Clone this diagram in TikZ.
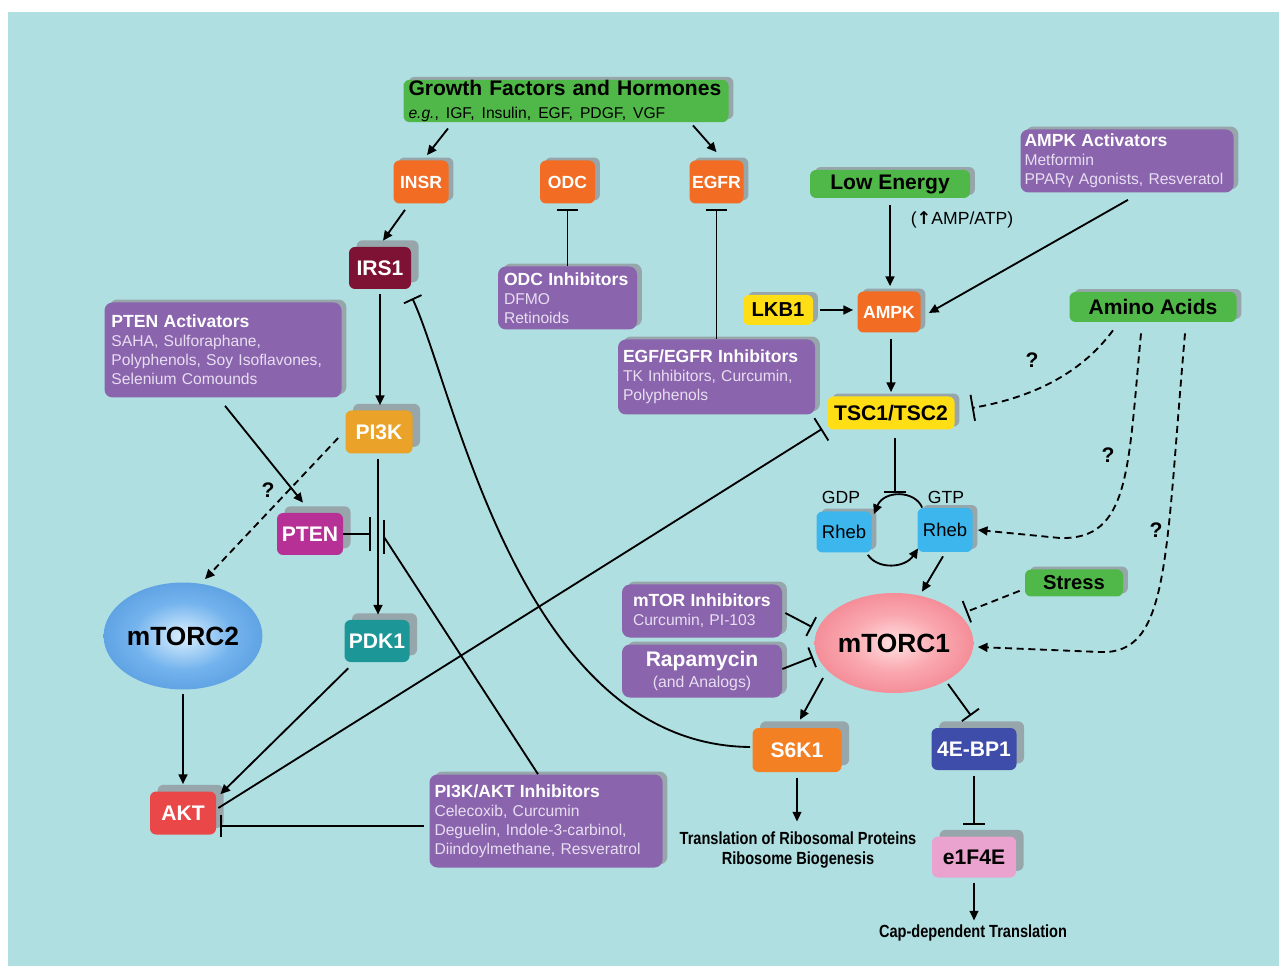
\documentclass[tikz,border=0pt]{standalone}
\usepackage{fontspec}
\setmainfont{Liberation Sans}
\newfontfamily\narrowfont{Liberation Sans}[FakeStretch=0.83]
\newfontfamily\dejavu{DejaVu Sans}
\usetikzlibrary{arrows.meta,shadows,shapes.geometric,calc}
\definecolor{bgcyan}{RGB}{176,223,226}
\definecolor{gfgreen}{RGB}{80,184,72}
\definecolor{inhpurple}{RGB}{138,100,172}
\definecolor{ptxt}{RGB}{232,222,242}
\definecolor{korange}{RGB}{242,108,36}
\definecolor{s6orange}{RGB}{244,128,36}
\definecolor{irsred}{RGB}{125,18,52}
\definecolor{pikamber}{RGB}{234,162,40}
\definecolor{ptenmag}{RGB}{182,48,150}
\definecolor{pdkteal}{RGB}{28,150,150}
\definecolor{aktred}{RGB}{234,72,72}
\definecolor{bpindigo}{RGB}{62,76,170}
\definecolor{eifpink}{RGB}{234,162,206}
\definecolor{rhebblue}{RGB}{60,182,236}
\definecolor{tscyellow}{RGB}{255,222,22}
\definecolor{shgray}{RGB}{150,166,170}
\newcommand\fs[2]{\fontsize{#1}{#2}\selectfont}
\newcommand\nohyph{\hyphenpenalty=10000\relax\exhyphenpenalty=10000\relax}
\newcommand\ptitle[1]{{\color{white}\fs{10}{10.8}\bfseries #1}}
\pgfdeclareradialshading{torcone}{\pgfpoint{0bp}{0bp}}{rgb(0bp)=(1,0.88,0.88); rgb(14bp)=(0.98,0.66,0.69); rgb(50bp)=(0.91,0.32,0.39)}
\pgfdeclareradialshading{torctwo}{\pgfpoint{0bp}{0bp}}{rgb(0bp)=(0.86,0.94,1); rgb(16bp)=(0.45,0.7,0.93); rgb(50bp)=(0.18,0.48,0.8)}
\tikzset{
  sz/.style 2 args={minimum width=#1*0.2mm, minimum height=#2*0.2mm},
  shL/.style={general shadow={fill=shgray, shadow xshift=4.3pt, shadow yshift=3.8pt}},
  shS/.style={general shadow={fill=shgray, shadow xshift=2.8pt, shadow yshift=1.7pt}},
  kbox/.style={rounded corners=1.2mm, inner sep=0pt, font=\fs{12}{14}\bfseries, text=white},
  pbox/.style={rounded corners=1.6mm, fill=inhpurple, inner sep=0pt, text=ptxt, align=left,
     font=\fs{8.9}{10.8}\nohyph, shS},
  gbox/.style={rounded corners=1.2mm, fill=gfgreen, inner sep=0pt, text=black, font=\fs{12}{14}\bfseries, shS},
  conn/.style={line width=1.05pt, black},
  arr/.style={conn, -{Triangle[length=5.5pt,width=5pt]}},
  inh/.style={conn, -{Bar[width=12pt]}},
  dsh/.style={dash pattern=on 4pt off 2.6pt},
  qm/.style={font=\fs{12}{14}\bfseries, inner sep=0pt},
  lbl/.style={font=\fs{10}{12}, inner sep=0pt},
  outtxt/.style={font=\narrowfont\fs{10}{11.3}\bfseries, align=center, inner sep=0pt},
}
\begin{document}
\begin{tikzpicture}[x=0.2mm,y=-0.2mm]
\useasboundingbox (0,0) rectangle (1279,966);
\fill[white] (0,0) rectangle (1279,966);
\fill[bgcyan] (8,12) rectangle (1279,966);

% ---- nodes ----
\node[gbox, sz={325}{42}, font=\fs{12}{12}, align=left, text width=63mm] (gf) at (566,101)
  {{\bfseries Growth Factors and Hormones}\\[1.5pt]{\fs{8.9}{11}\textit{e.g.}, IGF, Insulin, EGF, PDGF, VGF}};
\node[kbox, shS, fill=korange, sz={55}{43}, font=\fs{10}{12}\bfseries] (insr) at (421,182) {INSR};
\node[kbox, shS, fill=korange, sz={55}{43}, font=\fs{10}{12}\bfseries] (odc) at (567.5,182) {ODC};
\node[kbox, shS, fill=korange, sz={54}{43}, font=\fs{10}{12}\bfseries] (egfr) at (716.5,182) {EGFR};
\node[gbox, sz={160}{28}] (lowe) at (890,184) {Low Energy};
\node[pbox, sz={213}{63}, text width=41mm] (ampkact) at (1127,161)
  {\ptitle{AMPK Activators}\\Metformin\\PPARγ Agonists, Resveratol};
\node[lbl] (ampatp) at (962,220) {({\dejavu\bfseries ↑}AMP/ATP)};
\node[kbox, shS, fill=korange, sz={63}{41}, font=\fs{10}{12}\bfseries] (ampk) at (889,312) {AMPK};
\node[kbox, shS, fill=tscyellow, text=black, sz={70}{30}, font=\fs{11.5}{13}\bfseries] (lkb1) at (778,310) {LKB1};
\node[gbox, sz={167}{30}] (amino) at (1153,307) {Amino Acids};
\node[kbox, shS, fill=tscyellow, text=black, sz={127}{33}] (tsc) at (891,413) {TSC1/TSC2};
\node[kbox, shL, fill=irsred, sz={62}{42}] (irs1) at (380,268) {IRS1};
\node[pbox, sz={237}{95}, text width=44.6mm] (ptenact) at (223,350)
  {\ptitle{PTEN Activators}\\SAHA, Sulforaphane,\\Polyphenols, Soy Isoflavones,\\Selenium Comounds};
\node[kbox, shL, fill=pikamber, sz={67}{43}] (pi3k) at (379,432) {PI3K};
\node[kbox, shL, fill=ptenmag, sz={66}{42}] (pten) at (310,534) {PTEN};
\node[pbox, sz={139}{63}, text width=25.4mm] (odcinh) at (567.5,298)
  {\ptitle{ODC Inhibitors}\\DFMO\\Retinoids};
\node[pbox, sz={197}{75}, text width=37.4mm] (egfrinh) at (716.5,377)
  {\ptitle{EGF/EGFR Inhibitors}\\TK Inhibitors, Curcumin,\\Polyphenols};
\node[ellipse, shading=torctwo, sz={156}{107}, inner sep=0pt, font=\fs{15}{17}\bfseries] (mtorc2) at (183,636) {mTORC2};
\node[kbox, shL, fill=pdkteal, sz={65}{42}] (pdk1) at (377,641) {PDK1};
\node[kbox, shL, fill=aktred, sz={66}{43}] (akt) at (183,813) {AKT};
\node[pbox, sz={233}{93}, text width=44.6mm] (pi3kinh) at (546,821)
  {\ptitle{PI3K/AKT Inhibitors}\\Celecoxib, Curcumin\\Deguelin, Indole-3-carbinol,\\Diindoylmethane, Resveratrol};
\node[kbox, shL, fill=s6orange, sz={89}{44}] (s6k1) at (797,750) {S6K1};
\node[outtxt] (transl) at (798,850) {Translation of Ribosomal Proteins\\Ribosome Biogenesis};
\node[pbox, sz={160}{53}, text width=27.6mm] (mtorinh) at (702,611)
  {\ptitle{mTOR Inhibitors}\\Curcumin, PI-103};
\node[pbox, sz={160}{53}, align=center, font=\fs{9}{12}] (rapa) at (702,671)
  {{\color{white}\fs{12}{12}\bfseries Rapamycin}\\(and Analogs)};
\node[ellipse, shading=torcone, sz={155}{100}, inner sep=0pt, font=\fs{15}{17}\bfseries] (mtorc1) at (894,643) {mTORC1};
\node[kbox, shL, fill=bpindigo, sz={85}{42}] (ebp) at (974,749) {4E-BP1};
\node[kbox, shL, fill=eifpink, text=black, sz={84}{41}] (eif) at (974,857) {e1F4E};
\node[outtxt] (cap) at (973,933) {Cap-dependent Translation};
\node[kbox, shS, fill=rhebblue, text=black, font=\fs{10.5}{12}, sz={55}{41}] (rhebgdp) at (844,532) {Rheb};
\node[kbox, shS, fill=rhebblue, text=black, font=\fs{10.5}{12}, sz={55}{44}] (rhebgtp) at (945,530) {Rheb};
\node[lbl] (gdp) at (841,497) {GDP};
\node[lbl] (gtp) at (946,497) {GTP};
\node[gbox, sz={98}{27}, font=\fs{11.5}{13}\bfseries] (stress) at (1074,583) {Stress};
\node[qm] (q1) at (1032,360) {?};
\node[qm] (q2) at (1108,455) {?};
\node[qm] (q3) at (1156,530) {?};
\node[qm] (q4) at (268,490) {?};

% ---- connectors ----
\draw[arr] ([shift={(-118,6)}]gf.south) -- ([shift={(6,-5)}]insr.north);
\draw[arr] ([shift={(127,3)}]gf.south) -- ([shift={(0,-8)}]egfr.north);
\draw[arr] ([shift={(-16,6)}]insr.south) -- ([shift={(3,-6)}]irs1.north);
\draw[inh] (odcinh.north) -- ([shift={(0,5)}]odc.south);
\draw[inh] (egfrinh.north) -- ([shift={(0,5)}]egfr.south);
\draw[arr] ([shift={(0,5)}]irs1.south) -- ($(irs1.south |- pi3k.north)+(0,-5)$);
\draw[conn, -{Bar[width=11pt]}] ([shift={(-2,-3)}]s6k1.west) .. controls (520,745) and (455,390) .. ([shift={(1,9)}]irs1.south east);
\draw[arr] ([shift={(2,8)}]ptenact.south) -- ([shift={(-7,-10)}]pten.north);
\draw[arr, dsh] ([shift={(-7,6)}]pi3k.west) -- ([shift={(22,-3)}]mtorc2.north);
\draw[arr] ([shift={(-1,5)}]pi3k.south) -- ($(pi3k.south |- pdk1.north)+(-1,-5)$);
\coordinate (ptenbar) at (371,534);
\draw[conn, -{Bar[width=19pt]}] (pten.east) -- (ptenbar);
\coordinate (inhbar) at (384,537);
\draw[conn] ([shift={(-8,0)}]pi3kinh.north) -- (inhbar);
\draw[conn] ([shift={(0,-17)}]inhbar) -- ([shift={(0,17)}]inhbar);
\draw[arr] ([shift={(4,6)}]pdk1.south west) -- ([shift={(4,3)}]akt.north east);
\draw[arr] ([shift={(0,4)}]mtorc2.south) -- ($(mtorc2.south |- akt.north)+(0,-7)$);
\draw[conn, -{Bar[width=15pt]}] ([shift={(2,-5)}]akt.east) -- ([shift={(-5,-1)}]tsc.south west);
\draw[inh] ([shift={(-5,5)}]pi3kinh.west) -- ([shift={(4,13)}]akt.east);
\draw[arr] ([shift={(0,7)}]lowe.south) -- ($(lowe.south |- ampk.north)+(0,-5)$);
\draw[arr] ([shift={(1,7)}]ampkact.south) -- ([shift={(8,1)}]ampk.east);
\draw[arr] ([shift={(7,0)}]lkb1.east) -- ($(lkb1.east -| ampk.west)+(-4,0)$);
\draw[arr] ([shift={(2,6)}]ampk.south) -- ($(ampk.south |- tsc.north)+(2,-4)$);
\draw[conn, dsh, -{Bar[width=15pt]}] ([shift={(-40,8)}]amino.south) .. controls (1080,375) and (1030,398) .. ([shift={(17,-5)}]tsc.east);
\draw[arr, dsh] ([shift={(-12,11)}]amino.south) .. controls (1128,470) and (1130,540) .. (1060,538) -- ([shift={(5,0)}]rhebgtp.east);
\draw[arr, dsh] ([shift={(32,11)}]amino.south) .. controls (1165,560) and (1170,655) .. (1100,652) -- ([shift={(4,4)}]mtorc1.east);
\coordinate (rhebbar) at (895,493);
\draw[conn, -{Bar[width=13pt]}] ([shift={(4,8)}]tsc.south) -- (rhebbar);
\draw[arr] ([shift={(5,0)}]rhebgtp.north west) .. controls (915,490) and (884,490) .. ([shift={(2,3)}]rhebgdp.north east);
\draw[arr] ([shift={(-4,2)}]rhebgdp.south east) .. controls (878,570) and (905,568) .. ([shift={(1,-4)}]rhebgtp.south west);
\draw[arr] ([shift={(-2,4)}]rhebgtp.south) -- ([shift={(28,-1)}]mtorc1.north);
\draw[conn, dsh, -{Bar[width=13pt]}] ([shift={(-5,-6)}]stress.south west) -- ([shift={(72,-31)}]mtorc1.center);
\draw[inh] ([shift={(3,2)}]mtorinh.east) -- ([shift={(-82,-16)}]mtorc1.center);
\draw[inh] ([shift={(0,-2)}]rapa.east) -- ([shift={(-81,14)}]mtorc1.center);
\draw[arr] ([shift={(-71,35)}]mtorc1.center) -- ([shift={(3,-8)}]s6k1.north);
\draw[inh] ([shift={(54,41)}]mtorc1.center) -- ([shift={(-3,-12)}]ebp.north);
\draw[inh] ([shift={(0,6)}]ebp.south) -- ($(ebp.south |- eif.north)+(0,-11)$);
\draw[arr] ([shift={(0,5)}]eif.south) -- ($(eif.south |- cap.north)+(0,-4)$);
\draw[arr] ([shift={(0,6)}]s6k1.south) -- ($(s6k1.south |- transl.north)+(0,-10)$);
\end{tikzpicture}
\end{document}
